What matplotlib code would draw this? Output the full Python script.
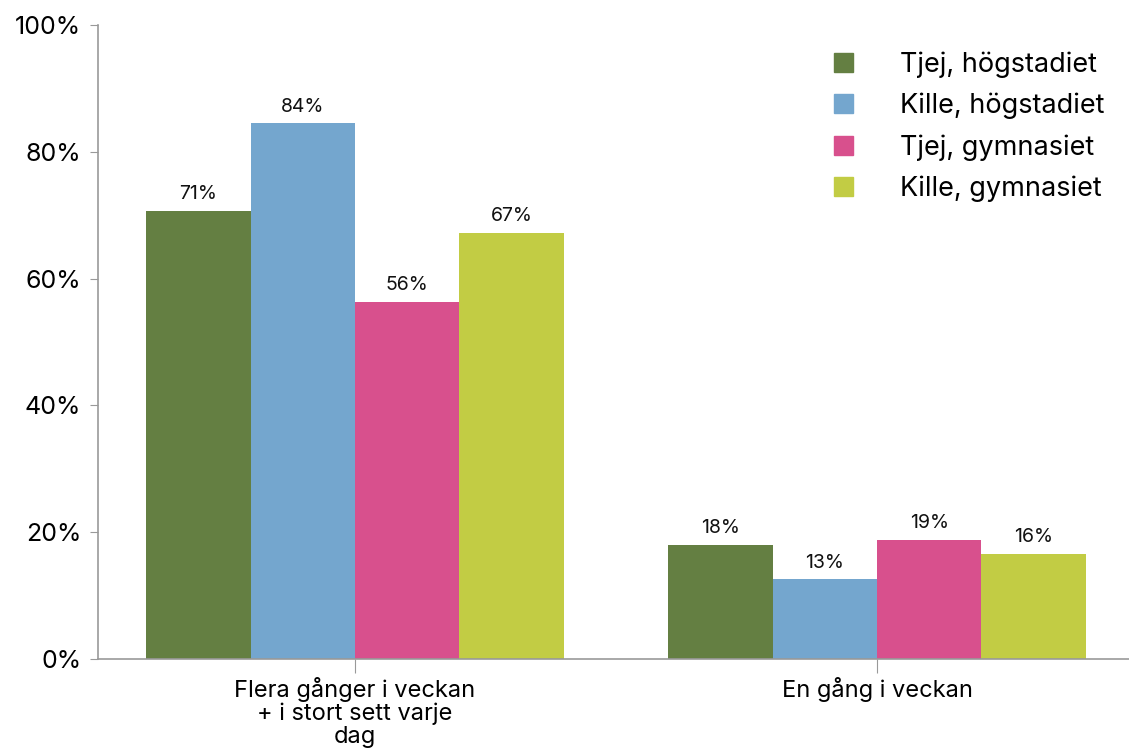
import numpy as np
import matplotlib.pyplot as plt
from matplotlib.patches import Patch

plt.rcParams['font.family'] = ['Inter', 'DejaVu Sans']

categories = ['Flera gånger i veckan\n+ i stort sett varje\ndag', 'En gång i veckan']
series = ['Tjej, högstadiet', 'Kille, högstadiet', 'Tjej, gymnasiet', 'Kille, gymnasiet']
tjej_hog = [70.7, 18.0]
kille_hog = [84.5, 12.6]
tjej_gym = [56.3, 18.8]
kille_gym = [67.2, 16.6]
labels = [['71%', '18%'], ['84%', '13%'], ['56%', '19%'], ['67%', '16%']]
colors = ['#647F42', '#74A6CE', '#D8508D', '#C2CC44']

fig = plt.figure(figsize=(11.29, 7.53), dpi=100)
ax = fig.add_axes([98/1129, 1 - 659/753, 1 - 98/1129, (659 - 25)/753])

x = np.arange(len(categories))
w = 0.2
data = [tjej_hog, kille_hog, tjej_gym, kille_gym]
for i, vals in enumerate(data):
    pos = x + (i - 1.5) * w
    ax.bar(pos, vals, width=w, color=colors[i], linewidth=0)
    for p, v, lab in zip(pos, vals, labels[i]):
        ax.text(p, v + 1.2, lab, ha='center', va='bottom', fontsize=14, color='#111111')

ax.set_xlim(-(355 - 98)/522, (1129 - 355)/522)
ax.set_ylim(0, 100)
ax.set_yticks(np.arange(0, 101, 20))
ax.set_yticklabels([f'{v}%' for v in range(0, 101, 20)])
ax.set_xticks(x)
ax.set_xticklabels(categories, fontsize=17, linespacing=1.05)
ax.tick_params(axis='y', labelsize=18, length=6, color='#999999', pad=6)
ax.tick_params(axis='x', length=10, color='#999999', pad=3)
for s in ['top', 'right']:
    ax.spines[s].set_visible(False)
for s in ['left', 'bottom']:
    ax.spines[s].set_color('#999999')
    ax.spines[s].set_linewidth(1.2)

handles = [Patch(color=c, label=l) for c, l in zip(colors, series)]
ax.legend(handles=handles, loc='upper right', bbox_to_anchor=(1.0, 0.997), frameon=False,
          fontsize=19.5, handlelength=0.7, handleheight=0.7, handletextpad=1.75, labelspacing=0.55)

fig.savefig('out.png', dpi=100)
